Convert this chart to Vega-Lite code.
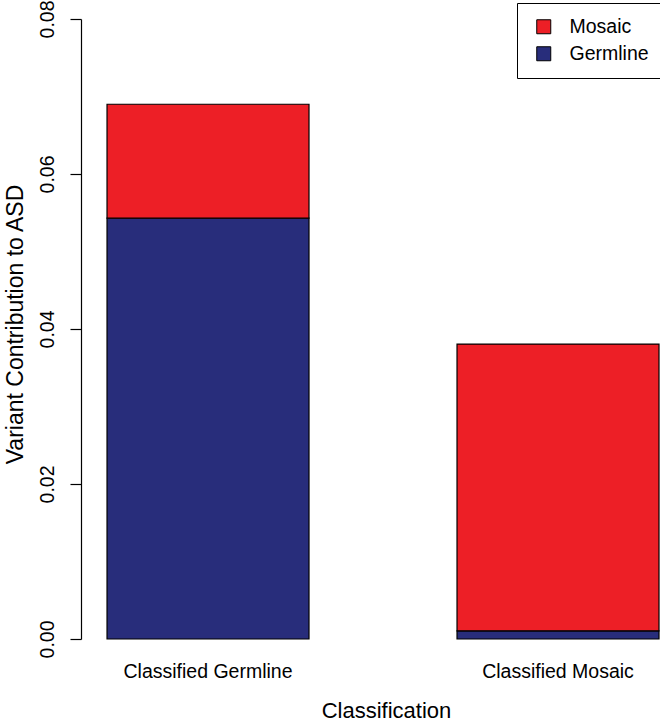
{
  "$schema": "https://vega.github.io/schema/vega-lite/v6.json",
  "width": 579,
  "height": 620,
  "autosize": {"type": "none"},
  "padding": {"left": 81, "top": 19, "right": 0, "bottom": 82},
  "background": "white",
  "config": {
    "view": {"stroke": null},
    "font": "Liberation Sans",
    "axis": {"grid": false, "labelColor": "black", "titleColor": "black", "titleFontWeight": "normal", "labelFont": "Liberation Sans", "titleFont": "Liberation Sans"},
    "legend": {"labelFont": "Liberation Sans"}
  },
  "data": {
    "values": [
      {"classification": "Classified Germline", "component": "Germline", "contribution": 0.0543},
      {"classification": "Classified Germline", "component": "Mosaic", "contribution": 0.0147},
      {"classification": "Classified Mosaic", "component": "Germline", "contribution": 0.00105},
      {"classification": "Classified Mosaic", "component": "Mosaic", "contribution": 0.0370}
    ]
  },
  "mark": {"type": "bar", "stroke": "black", "strokeWidth": 1.2},
  "encoding": {
    "x": {
      "field": "classification",
      "type": "nominal",
      "sort": ["Classified Germline", "Classified Mosaic"],
      "scale": {"paddingInner": 0.4229, "paddingOuter": 0.0386, "align": 0.963},
      "axis": {
        "title": "Classification",
        "titleFontSize": 22,
        "titleX": 305,
        "titleY": 78,
        "titleBaseline": "alphabetic",
        "titleAnchor": null,
        "labelAngle": 0,
        "labelFontSize": 19.5,
        "labelBaseline": "alphabetic",
        "labelPadding": 38,
        "ticks": false,
        "domain": false
      }
    },
    "y": {
      "field": "contribution",
      "type": "quantitative",
      "stack": "zero",
      "scale": {"domain": [0, 0.08], "nice": false, "zero": true},
      "axis": {
        "title": "Variant Contribution to ASD",
        "titleFontSize": 23,
        "titleAngle": 270,
        "titleX": -59,
        "titleY": 305,
        "titleAlign": "center",
        "titleBaseline": "alphabetic",
        "values": [0, 0.02, 0.04, 0.06, 0.08],
        "format": ".2f",
        "labelAngle": -90,
        "labelAlign": "center",
        "labelBaseline": "alphabetic",
        "labelFontSize": 19.5,
        "labelPadding": 17,
        "tickSize": 11,
        "tickColor": "black",
        "tickWidth": 1.2,
        "domainColor": "black",
        "domainWidth": 1.2
      }
    },
    "color": {
      "field": "component",
      "type": "nominal",
      "scale": {"domain": ["Mosaic", "Germline"], "range": ["#ED1F26", "#282D7B"]},
      "legend": {
        "title": null,
        "orient": "none",
        "legendX": 436,
        "legendY": -16,
        "strokeColor": "black",
        "padding": 14,
        "symbolType": "square",
        "symbolSize": 196,
        "symbolStrokeColor": "black",
        "symbolStrokeWidth": 1,
        "symbolOpacity": 1,
        "symbolOffset": 3,
        "labelFontSize": 19.5,
        "labelColor": "black",
        "labelOffset": 16,
        "rowPadding": 6
      }
    },
    "order": {"field": "component", "sort": "ascending"}
  }
}
